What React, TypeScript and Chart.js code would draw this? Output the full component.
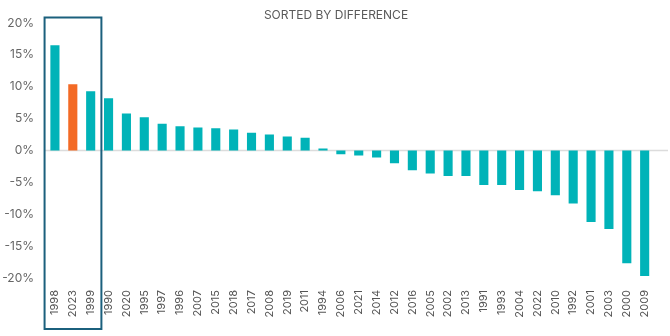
import React, { useEffect, useRef } from "react";
import { Chart, registerables } from "chart.js";

Chart.register(...registerables);

const years = [
  "1998", "2023", "1999", "1990", "2020", "1995", "1997", "1996", "2007", "2015",
  "2018", "2017", "2008", "2019", "2011", "1994", "2006", "2021", "2014", "2012",
  "2016", "2005", "2002", "2013", "1991", "1993", "2004", "2022", "2010", "1992",
  "2001", "2003", "2000", "2009",
];

const differences = [
  16.5, 10.4, 9.3, 8.2, 5.8, 5.2, 4.2, 3.8, 3.6, 3.5,
  3.3, 2.8, 2.5, 2.2, 2.0, 0.3, -0.6, -0.8, -1.1, -2.0,
  -3.1, -3.6, -4.0, -4.0, -5.4, -5.4, -6.2, -6.4, -7.0, -8.3,
  -11.2, -12.3, -17.7, -19.7,
];

const highlightYear = "2023";
const boxedYears = ["1998", "2023", "1999"];
const titleText = "SORTED BY DIFFERENCE";

const TEAL = "#00b3b8";
const ORANGE = "#f36a25";
const BOX = "#1b607d";

const overlayPlugin = {
  id: "overlay",
  beforeDatasetsDraw(chart: any) {
    const { ctx, chartArea, scales } = chart;
    const y0 = scales.y.getPixelForValue(0);
    ctx.save();
    ctx.strokeStyle = "#dcdcdc";
    ctx.lineWidth = 1.5;
    ctx.beginPath();
    ctx.moveTo(chartArea.left - 2, y0);
    ctx.lineTo(chart.width - 2, y0);
    ctx.stroke();
    ctx.restore();
  },
  afterDraw(chart: any) {
    const { ctx, chartArea, scales } = chart;
    const x = scales.x;
    const i0 = years.indexOf(boxedYears[0]);
    const i1 = years.indexOf(boxedYears[boxedYears.length - 1]);
    const cw = x.getPixelForValue(1) - x.getPixelForValue(0);
    const left = x.getPixelForValue(i0) - 0.58 * cw;
    const right = x.getPixelForValue(i1) + 0.6 * cw;
    const top = chartArea.top - 5.5;
    const bottom = chart.height - 7;
    ctx.save();
    ctx.strokeStyle = BOX;
    ctx.lineWidth = 2;
    ctx.strokeRect(left, top, right - left, bottom - top);
    ctx.fillStyle = "#5a5a5a";
    ctx.font = "12px Inter";
    ctx.textAlign = "center";
    ctx.textBaseline = "middle";
    ctx.fillText(titleText, chart.width / 2 + 1, 15.5);
    ctx.restore();
  },
};

export default function App() {
  const ref = useRef<HTMLCanvasElement | null>(null);
  useEffect(() => {
    document.body.style.margin = "0";
    const canvas = ref.current!;
    const chart = new Chart(canvas, {
      type: "bar",
      data: {
        labels: years,
        datasets: [
          {
            data: differences,
            backgroundColor: years.map((y) => (y === highlightYear ? ORANGE : TEAL)),
            barPercentage: 0.51,
            categoryPercentage: 1,
          },
        ],
      },
      options: {
        responsive: false,
        animation: false,
        layout: { padding: { left: 0, right: 9, top: 23, bottom: 0 } },
        plugins: {
          legend: { display: false },
          tooltip: { enabled: false },
          title: { display: false },
        },
        scales: {
          x: {
            grid: { display: false, drawTicks: false },
            border: { display: false },
            ticks: {
              minRotation: 90,
              maxRotation: 90,
              autoSkip: false,
              padding: 12,
              color: "#555",
              font: { family: "Inter", size: 11 },
            },
            afterFit(s: any) {
              s.height = 58;
            },
          },
          y: {
            min: -20,
            max: 20,
            grid: { display: false, drawTicks: false },
            border: { display: false },
            ticks: {
              stepSize: 5,
              padding: 12,
              color: "#666",
              font: { family: "Inter", size: 12 },
              callback: (v: any) => `${v}%`,
            },
            afterFit(s: any) {
              s.width = 46;
            },
          },
        },
      },
      plugins: [overlayPlugin],
    });
    return () => chart.destroy();
  }, []);
  return (
    <div style={{ width: 670, height: 336 }}>
      <canvas ref={ref} width={670} height={336} />
    </div>
  );
}
